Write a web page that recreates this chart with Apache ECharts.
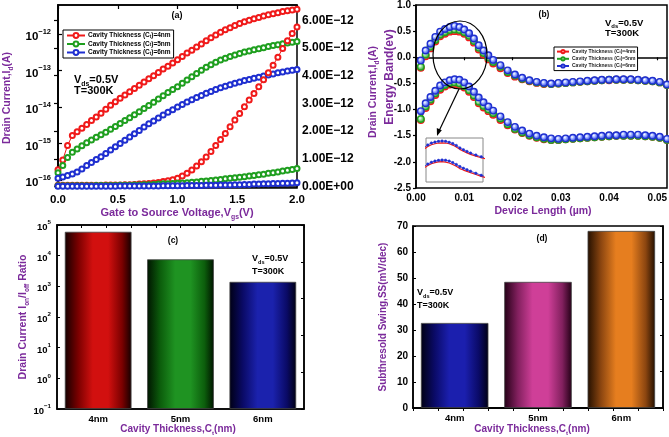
<!DOCTYPE html>
<html>
<head>
<meta charset="utf-8">
<script src="https://cdn.jsdelivr.net/npm/echarts@6/dist/echarts.min.js"></script>
<style>
  html, body { margin: 0; padding: 0; background: #fff; }
  #fig { width: 669px; height: 437px; }
</style>
</head>
<body>
<div id="fig"></div>
<script>
// panel (a): drain current vs gate voltage
const vgs = [0, 0.04, 0.08, 0.12, 0.16, 0.20, 0.24, 0.28, 0.32, 0.36, 0.40, 0.44, 0.48, 0.52, 0.56, 0.60, 0.64, 0.68, 0.72, 0.76, 0.80,
  0.84, 0.88, 0.92, 0.96, 1.00, 1.04, 1.08, 1.12, 1.16, 1.20, 1.24, 1.28, 1.32, 1.36, 1.40, 1.44, 1.48, 1.52, 1.56, 1.60,
  1.64, 1.68, 1.72, 1.76, 1.80, 1.84, 1.88, 1.92, 1.96, 2.00]
// log scale (A)
const idLog4 = [1.91e-16, 3.55e-16, 8.9e-16, 1.66e-15, 2.09e-15, 2.63e-15, 3.31e-15, 4.27e-15, 5.37e-15, 6.76e-15, 8.71e-15,
  1.12e-14, 1.41e-14, 1.74e-14, 2.14e-14, 2.63e-14, 3.24e-14, 3.98e-14, 4.9e-14, 6.03e-14, 7.24e-14, 8.91e-14,
  1.1e-13, 1.32e-13, 1.62e-13, 2.0e-13, 2.45e-13, 3.02e-13, 3.63e-13, 4.47e-13, 5.37e-13, 6.61e-13, 7.94e-13, 9.55e-13,
  1.12e-12, 1.32e-12, 1.51e-12, 1.74e-12, 1.95e-12, 2.19e-12, 2.4e-12, 2.63e-12, 2.88e-12, 3.16e-12, 3.39e-12, 3.63e-12,
  3.89e-12, 4.17e-12, 4.37e-12, 4.57e-12, 4.79e-12]
const idLog5 = [1.58e-16, 2.51e-16, 4.17e-16, 5.75e-16, 7.08e-16, 8.71e-16, 1.05e-15, 1.26e-15, 1.48e-15, 1.74e-15, 2.04e-15,
  2.45e-15, 2.95e-15, 3.55e-15, 4.27e-15, 5.13e-15, 6.17e-15, 7.41e-15, 9.12e-15, 1.1e-14, 1.35e-14, 1.66e-14, 2.04e-14,
  2.51e-14, 3.02e-14, 3.63e-14, 4.47e-14, 5.5e-14, 6.76e-14, 8.32e-14, 1.02e-13, 1.23e-13, 1.45e-13, 1.7e-13, 1.95e-13,
  2.19e-13, 2.45e-13, 2.69e-13, 2.95e-13, 3.24e-13, 3.47e-13, 3.72e-13, 3.98e-13, 4.27e-13, 4.57e-13, 4.9e-13, 5.13e-13,
  5.5e-13, 5.75e-13, 6.03e-13, 6.31e-13]
const idLog6 = [1.12e-16, 1.2e-16, 1.32e-16, 1.45e-16, 1.66e-16, 2.0e-16, 2.51e-16, 3.02e-16, 3.63e-16, 4.37e-16, 5.37e-16,
  6.61e-16, 8.13e-16, 1.0e-15, 1.23e-15, 1.51e-15, 1.86e-15, 2.29e-15, 2.82e-15, 3.47e-15, 4.17e-15, 5.01e-15, 6.03e-15,
  7.24e-15, 8.51e-15, 1.0e-14, 1.17e-14, 1.38e-14, 1.58e-14, 1.82e-14, 2.09e-14, 2.4e-14, 2.69e-14, 3.02e-14, 3.39e-14,
  3.72e-14, 4.07e-14, 4.47e-14, 4.9e-14, 5.37e-14, 5.75e-14, 6.17e-14, 6.61e-14, 7.08e-14, 7.59e-14, 8.13e-14, 8.71e-14,
  9.12e-14, 9.77e-14, 1.02e-13, 1.07e-13]
// linear scale, in units of 1E-12 A
const idLin4 = [0.05, 0.05, 0.05, 0.05, 0.05, 0.05, 0.05, 0.05, 0.05, 0.05, 0.06, 0.06, 0.06, 0.06, 0.07, 0.07, 0.08, 0.09, 0.10,
  0.11, 0.13, 0.15, 0.18, 0.21, 0.25, 0.30, 0.38, 0.48, 0.60, 0.74, 0.90, 1.07, 1.27, 1.48, 1.70, 1.92, 2.16, 2.40, 2.64,
  2.88, 3.12, 3.36, 3.60, 3.85, 4.11, 4.38, 4.67, 4.98, 5.26, 5.52, 5.76]
const idLin5 = [0.03, 0.03, 0.03, 0.03, 0.03, 0.03, 0.03, 0.03, 0.04, 0.04, 0.04, 0.04, 0.04, 0.05, 0.05, 0.05, 0.06, 0.06, 0.07,
  0.07, 0.08, 0.09, 0.10, 0.10, 0.11, 0.12, 0.13, 0.14, 0.16, 0.17, 0.19, 0.20, 0.22, 0.24, 0.26, 0.28, 0.30, 0.32, 0.34,
  0.36, 0.38, 0.40, 0.43, 0.45, 0.48, 0.50, 0.53, 0.56, 0.59, 0.62, 0.65]
const idLin6 = [0.01, 0.01, 0.01, 0.01, 0.01, 0.01, 0.01, 0.01, 0.01, 0.01, 0.01, 0.01, 0.01, 0.02, 0.02, 0.02, 0.02, 0.02, 0.02,
  0.02, 0.02, 0.02, 0.03, 0.03, 0.03, 0.03, 0.03, 0.04, 0.04, 0.04, 0.04, 0.05, 0.05, 0.05, 0.06, 0.06, 0.06, 0.07, 0.07,
  0.08, 0.08, 0.09, 0.09, 0.10, 0.10, 0.11, 0.11, 0.12, 0.12, 0.13, 0.14]

// panel (b): energy band vs device length
const devLen = [0.001, 0.002, 0.003, 0.004, 0.005, 0.006, 0.007, 0.008, 0.009, 0.010, 0.011, 0.012, 0.013, 0.014, 0.015, 0.016,
  0.0175, 0.019, 0.0205, 0.022, 0.0235, 0.025, 0.0265, 0.028, 0.0295, 0.031, 0.0325, 0.034, 0.0355, 0.037, 0.0385, 0.040,
  0.0415, 0.043, 0.0445, 0.046, 0.0475, 0.049, 0.0505, 0.052]
const ecUp4 = [-0.20, 0.02, 0.17, 0.30, 0.40, 0.45, 0.49, 0.50, 0.49, 0.45, 0.38, 0.28, 0.15, 0.05, -0.04, -0.12, -0.21, -0.30,
  -0.37, -0.42, -0.46, -0.49, -0.51, -0.51, -0.50, -0.49, -0.48, -0.47, -0.46, -0.45, -0.44, -0.44, -0.43, -0.43, -0.43,
  -0.44, -0.45, -0.46, -0.48, -0.53]
const ecUp5 = [-0.18, 0.05, 0.20, 0.33, 0.43, 0.48, 0.52, 0.53, 0.52, 0.48, 0.41, 0.31, 0.18, 0.08, -0.01, -0.09, -0.18, -0.28,
  -0.35, -0.41, -0.45, -0.48, -0.50, -0.51, -0.50, -0.49, -0.48, -0.47, -0.46, -0.45, -0.44, -0.43, -0.43, -0.43, -0.43,
  -0.44, -0.45, -0.46, -0.48, -0.53]
const ecUp6 = [-0.06, 0.13, 0.26, 0.39, 0.49, 0.54, 0.58, 0.60, 0.58, 0.53, 0.46, 0.36, 0.23, 0.13, 0.04, -0.05, -0.15, -0.25,
  -0.33, -0.39, -0.44, -0.47, -0.49, -0.50, -0.49, -0.48, -0.47, -0.46, -0.45, -0.44, -0.43, -0.43, -0.42, -0.42, -0.42,
  -0.43, -0.44, -0.45, -0.47, -0.52]
const evLow4 = [-1.20, -0.97, -0.84, -0.72, -0.62, -0.56, -0.52, -0.51, -0.53, -0.58, -0.66, -0.76, -0.88, -0.96, -1.03, -1.10,
  -1.20, -1.30, -1.38, -1.45, -1.50, -1.54, -1.57, -1.58, -1.58, -1.57, -1.56, -1.55, -1.54, -1.53, -1.52, -1.51, -1.50,
  -1.50, -1.50, -1.50, -1.51, -1.52, -1.54, -1.58]
const evLow5 = [-1.18, -0.94, -0.81, -0.69, -0.59, -0.53, -0.49, -0.48, -0.50, -0.55, -0.63, -0.73, -0.85, -0.93, -1.00, -1.07,
  -1.17, -1.28, -1.37, -1.44, -1.49, -1.53, -1.56, -1.58, -1.58, -1.57, -1.56, -1.55, -1.54, -1.53, -1.52, -1.51, -1.50,
  -1.50, -1.50, -1.50, -1.51, -1.52, -1.54, -1.58]
const evLow6 = [-1.03, -0.88, -0.76, -0.64, -0.54, -0.48, -0.44, -0.42, -0.43, -0.48, -0.56, -0.66, -0.77, -0.86, -0.94, -1.02,
  -1.13, -1.24, -1.33, -1.40, -1.46, -1.50, -1.53, -1.55, -1.56, -1.55, -1.54, -1.53, -1.52, -1.51, -1.50, -1.49, -1.49,
  -1.48, -1.48, -1.48, -1.49, -1.50, -1.52, -1.56]

// panels (c) and (d)
const cavity = ['4nm', '5nm', '6nm']
const onOffRatio = [6.0e4, 7.6e3, 1.4e3]
const ssValues = [32.7, 48.5, 68.1]

// ticks
const logTicksA = [1e-16, 1e-15, 1e-14, 1e-13, 1e-12]
const linTicksA = [0, 1, 2, 3, 4, 5, 6]
const lenTicks = [0, 0.01, 0.02, 0.03, 0.04, 0.05]
const logTicksC = [0.1, 1, 10, 100, 1000, 10000, 100000]

const FONT = 'Liberation Sans'
const PURPLE = '#7b2a9b'
const RED = '#f01a1a', GREEN = '#1f9f1f', BLUE = '#1f2fd0'

function pow10Label(v) {
  let e = Math.round(Math.log10(v))
  let s = e < 0 ? '−' + Math.abs(e) : '' + e
  return '{b|10}{p|' + s + '}'
}
function powRich(size) {
  return {
    b: {fontSize: size, fontWeight: 'bold', fontFamily: FONT, color: '#000', lineHeight: size + 6},
    p: {fontSize: size * 0.65, fontWeight: 'bold', fontFamily: FONT, color: '#000', verticalAlign: 'top', lineHeight: size * 0.65}
  }
}
function lbl(size, extra) {
  return Object.assign({fontFamily: FONT, fontWeight: 'bold', color: '#000', fontSize: size}, extra || {})
}
function grad(edge, mid, center) {
  return new echarts.graphic.LinearGradient(0, 0, 1, 0, [
    {offset: 0, color: edge}, {offset: 0.2, color: mid}, {offset: 0.42, color: center},
    {offset: 0.65, color: center}, {offset: 0.86, color: mid}, {offset: 1, color: edge}
  ])
}
// text with subscripts written as {s|..}
function txt(x, y, text, size, color, opts) {
  opts = opts || {}
  return {
    type: 'text', x: x, y: y, rotation: opts.rot || 0, z: 100,
    style: {
      text: text, fill: color, fontSize: size, fontWeight: 'bold', fontFamily: FONT,
      align: opts.align || 'center', verticalAlign: 'middle', lineHeight: size + 4,
      rich: {
        s: {fontSize: size * 0.62, fontWeight: 'bold', fontFamily: FONT, fill: color, verticalAlign: 'bottom', lineHeight: size * 0.62}
      }
    }
  }
}

const axLine = {show: true, lineStyle: {color: '#000', width: 1.5}}
const noSplit = {show: false}

const chart = echarts.init(document.getElementById('fig'))

function lineSeries(name, data, color, xi, yi, sym, z) {
  return {
    name: name, type: 'line', xAxisIndex: xi, yAxisIndex: yi, data: data, z: z || 2,
    symbol: sym.symbol, symbolSize: sym.size, showAllSymbol: true,
    lineStyle: {color: color, width: sym.lw || 1},
    itemStyle: {color: sym.fill || color, borderColor: color, borderWidth: sym.bw || 1.2},
    emphasis: {disabled: true}
  }
}
const pairs = (xs, ys) => xs.map((x, i) => [x, ys[i]])
const hollow = {symbol: 'emptyCircle', size: 5, bw: 1.2}
function sphere(color, light) {
  return {
    symbol: 'circle', size: 6.5, bw: 1.4,
    fill: {type: 'radial', x: 0.4, y: 0.4, r: 0.6, colorStops: [{offset: 0, color: '#ffffff'}, {offset: 0.45, color: light}, {offset: 1, color: color}]}
  }
}

const series = [
  lineSeries(cavity[0], pairs(vgs, idLog4), RED, 0, 0, hollow),
  lineSeries(cavity[1], pairs(vgs, idLog5), GREEN, 0, 0, hollow),
  lineSeries(cavity[2], pairs(vgs, idLog6), BLUE, 0, 0, hollow),
  lineSeries(cavity[0], pairs(vgs, idLin4), RED, 0, 1, hollow),
  lineSeries(cavity[1], pairs(vgs, idLin5), GREEN, 0, 1, hollow),
  lineSeries(cavity[2], pairs(vgs, idLin6), BLUE, 0, 1, hollow),
  lineSeries(cavity[0], pairs(devLen, ecUp4), RED, 2, 2, sphere(RED, '#ff8a8a')),
  lineSeries(cavity[0], pairs(devLen, evLow4), RED, 2, 2, sphere(RED, '#ff8a8a')),
  lineSeries(cavity[1], pairs(devLen, ecUp5), GREEN, 2, 2, sphere(GREEN, '#8ad88a')),
  lineSeries(cavity[1], pairs(devLen, evLow5), GREEN, 2, 2, sphere(GREEN, '#8ad88a')),
  lineSeries(cavity[2], pairs(devLen, ecUp6), BLUE, 2, 2, sphere(BLUE, '#8aa0ff')),
  lineSeries(cavity[2], pairs(devLen, evLow6), BLUE, 2, 2, sphere(BLUE, '#8aa0ff')),
  // inset zoom of the band peaks
  lineSeries('inset', pairs(devLen, ecUp4), RED, 7, 7, {symbol: 'none', size: 0, lw: 1.2}, 10),
  lineSeries('inset', pairs(devLen, evLow4), RED, 7, 7, {symbol: 'none', size: 0, lw: 1.2}, 10),
  lineSeries('inset', pairs(devLen, ecUp6), BLUE, 7, 7, {symbol: 'circle', size: 2.5, bw: 0.5, lw: 0.8}, 11),
  lineSeries('inset', pairs(devLen, evLow6), BLUE, 7, 7, {symbol: 'circle', size: 2.5, bw: 0.5, lw: 0.8}, 11),
  {
    type: 'bar', xAxisIndex: 3, yAxisIndex: 3, barWidth: '81%',
    data: onOffRatio.map((v, i) => ({
      value: v,
      itemStyle: {color: [grad('#140000', '#7a0000', '#d2100f'), grad('#001400', '#0c5e0c', '#1f9322'), grad('#000014', '#0a0a66', '#1b22ad')][i]}
    })),
    itemStyle: {borderColor: '#444', borderWidth: 0.8}
  },
  {
    type: 'bar', xAxisIndex: 5, yAxisIndex: 5, barWidth: '81%',
    data: ssValues.map((v, i) => ({
      value: v,
      itemStyle: {color: [grad('#000014', '#0a0a66', '#1b1fae'), grad('#240016', '#82205e', '#cf3f98'), grad('#241000', '#8c4610', '#e67e1f')][i]}
    })),
    itemStyle: {borderColor: '#444', borderWidth: 0.8}
  }
]

const legendFmt = n => 'Cavity Thickness (C{s|t})=' + n
const option = {
  animation: false,
  backgroundColor: '#fff',
  grid: [
    {left: 58, top: 5, width: 239, height: 183, show: true, borderColor: '#000', borderWidth: 1.5, outerBoundsMode: 'none'},
    {left: 416, top: 5, width: 251, height: 183, show: true, borderColor: '#000', borderWidth: 1.5, outerBoundsMode: 'none'},
    {left: 57, top: 225, width: 247, height: 184, show: true, borderColor: '#000', borderWidth: 1.5, outerBoundsMode: 'none'},
    {left: 413, top: 226, width: 250, height: 182, show: true, borderColor: '#000', borderWidth: 1.5, outerBoundsMode: 'none'},
    {left: 426, top: 138, width: 57, height: 44, show: true, borderColor: '#888', borderWidth: 1, backgroundColor: '#fff', outerBoundsMode: 'none'}
  ],
  legend: [
    {
      left: 63, top: 30, orient: 'vertical', data: cavity, formatter: legendFmt,
      itemWidth: 18, itemHeight: 6, itemGap: 1.5, padding: [2, 3, 2, 3],
      borderColor: '#000', borderWidth: 1, backgroundColor: '#fff', selectedMode: false,
      textStyle: {fontSize: 6.5, fontWeight: 'bold', fontFamily: FONT, color: '#000', padding: [0, 0, 0, -2],
        rich: {s: {fontSize: 4.5, fontWeight: 'bold', fontFamily: FONT, color: '#000', verticalAlign: 'bottom', lineHeight: 4.5}}}
    },
    {
      left: 554, top: 47, orient: 'vertical', data: cavity, formatter: legendFmt,
      itemWidth: 12, itemHeight: 4, itemGap: 2, padding: [2, 2, 2, 2],
      borderColor: '#000', borderWidth: 1, backgroundColor: '#fff', selectedMode: false,
      textStyle: {fontSize: 5, fontWeight: 'bold', fontFamily: FONT, color: '#222', padding: [0, 0, 0, -2],
        rich: {s: {fontSize: 3.5, fontWeight: 'bold', fontFamily: FONT, color: '#222', verticalAlign: 'bottom', lineHeight: 3.5}}}
    }
  ],
  xAxis: [
    {gridIndex: 0, type: 'value', min: 0, max: 2, interval: 0.5, axisLine: axLine, splitLine: noSplit,
      axisTick: {inside: true, length: 4, lineStyle: {width: 1.2}},
      axisLabel: lbl(11.5, {margin: 6, formatter: v => v.toFixed(1)})},
    {gridIndex: 0, type: 'value', position: 'top', min: 0, max: 2, interval: 0.5, axisLine: axLine, splitLine: noSplit,
      axisTick: {inside: true, length: 4, lineStyle: {width: 1.2}}, axisLabel: {show: false}},
    {gridIndex: 1, type: 'value', min: 0, max: 0.052, axisLine: axLine, splitLine: noSplit,
      axisTick: {length: 3, customValues: lenTicks, lineStyle: {width: 1.2}},
      axisLabel: lbl(10, {margin: 5, customValues: lenTicks, formatter: v => v.toFixed(2)})},
    {gridIndex: 2, type: 'category', data: cavity, axisLine: axLine, splitLine: noSplit,
      axisTick: {inside: true, alignWithLabel: true, length: 3}, axisLabel: lbl(9.5, {margin: 5})},
    {gridIndex: 2, type: 'value', position: 'top', min: 0, max: 10, interval: 1, axisLine: axLine, splitLine: noSplit,
      axisTick: {inside: true, length: 3}, axisLabel: {show: false}},
    {gridIndex: 3, type: 'category', data: cavity, axisLine: axLine, splitLine: noSplit,
      axisTick: {inside: true, alignWithLabel: true, length: 3}, axisLabel: lbl(9.5, {margin: 5})},
    {gridIndex: 3, type: 'value', position: 'top', min: 0, max: 10, interval: 1, axisLine: axLine, splitLine: noSplit,
      axisTick: {inside: true, length: 3}, axisLabel: {show: false}},
    {gridIndex: 4, type: 'value', min: 0.0035, max: 0.0195, show: false, splitLine: noSplit}
  ],
  yAxis: [
    {gridIndex: 0, type: 'log', min: 6.03e-17, max: 6.31e-12, axisLine: axLine, splitLine: noSplit,
      axisTick: {inside: true, length: 4, customValues: logTicksA, lineStyle: {width: 1.2}},
      minorTick: {show: false},
      axisLabel: {margin: 7, padding: [6, 0, 0, 0], customValues: logTicksA, formatter: pow10Label, rich: powRich(11.5)}},
    {gridIndex: 0, type: 'value', position: 'right', min: -0.05, max: 6.55, axisLine: axLine, splitLine: noSplit,
      axisTick: {inside: true, length: 4, customValues: linTicksA, lineStyle: {width: 1.2}},
      axisLabel: lbl(12, {margin: 5, customValues: linTicksA, formatter: v => v === 0 ? '0.00E+00' : v.toFixed(2) + 'E−12'})},
    {gridIndex: 1, type: 'value', min: -2.5, max: 1.0, interval: 0.5, axisLine: axLine, splitLine: noSplit,
      axisTick: {length: 3, lineStyle: {width: 1.2}},
      axisLabel: lbl(10, {margin: 5, formatter: v => v.toFixed(1)})},
    {gridIndex: 2, type: 'log', min: 0.1, max: 100000, startValue: 0.1, axisLine: axLine, splitLine: noSplit,
      axisTick: {inside: true, length: 3, customValues: logTicksC},
      axisLabel: {margin: 6, padding: [5, 0, 0, 0], customValues: logTicksC, formatter: pow10Label, rich: powRich(9.5)}},
    {gridIndex: 2, type: 'value', position: 'right', min: 0, max: 5, interval: 1, axisLine: axLine, splitLine: noSplit,
      axisTick: {inside: true, length: 3}, axisLabel: {show: false}},
    {gridIndex: 3, type: 'value', min: 0, max: 70, interval: 10, axisLine: axLine, splitLine: noSplit,
      axisTick: {inside: true, length: 3}, axisLabel: lbl(10, {margin: 5})},
    {gridIndex: 3, type: 'value', position: 'right', min: 0, max: 5, interval: 1, axisLine: axLine, splitLine: noSplit,
      axisTick: {inside: true, length: 3}, axisLabel: {show: false}},
    {gridIndex: 4, type: 'value', min: -1.6, max: 0.76, show: false, splitLine: noSplit}
  ],
  series: series,
  graphic: [
    // axis titles
    txt(7, 98, 'Drain Current,I{s|d}(A)', 10.5, PURPLE, {rot: Math.PI / 2}),
    txt(177, 213, 'Gate to Source Voltage,V{s|gs}(V)', 11, PURPLE),
    txt(373, 92, 'Drain Current,I{s|d}(A)', 10.5, PURPLE, {rot: Math.PI / 2}),
    txt(390, 77, 'Energy Band(ev)', 12, PURPLE, {rot: Math.PI / 2}),
    txt(543, 211, 'Device Length (µm)', 10.5, PURPLE),
    txt(23, 317, 'Drain Current I{s|on}/I{s|off} Ratio', 10.5, PURPLE, {rot: Math.PI / 2}),
    txt(178, 429, 'Cavity Thickness,C{s|t}(nm)', 10, PURPLE),
    txt(383, 317, 'Subthresold Swing,SS(mV/dec)', 10, PURPLE, {rot: Math.PI / 2}),
    txt(532, 429, 'Cavity Thickness,C{s|t}(nm)', 10, PURPLE),
    // panel labels
    txt(177, 16, '(a)', 9, '#000'),
    txt(544, 15, '(b)', 8.5, '#000'),
    txt(173, 241, '(c)', 8.5, '#000'),
    txt(542, 239, '(d)', 8.5, '#000'),
    // conditions
    txt(74, 80, 'V{s|ds}=0.5V', 11, '#000', {align: 'left'}),
    txt(74, 91, 'T=300K', 11, '#000', {align: 'left'}),
    txt(605, 23, 'V{s|ds}=0.5V', 9.5, '#000', {align: 'left'}),
    txt(605, 33, 'T=300K', 9.5, '#000', {align: 'left'}),
    txt(252, 259, 'V{s|ds}=0.5V', 9, '#000', {align: 'left'}),
    txt(252, 272, 'T=300K', 9, '#000', {align: 'left'}),
    txt(417, 293, 'V{s|ds}=0.5V', 9, '#000', {align: 'left'}),
    txt(417, 306, 'T=300K', 9, '#000', {align: 'left'}),
    // zoom ellipse and arrow in panel (b)
    {type: 'ellipse', z: 100, shape: {cx: 460, cy: 55, rx: 27, ry: 34}, style: {fill: 'none', stroke: '#000', lineWidth: 1.2}},
    {type: 'line', z: 100, shape: {x1: 459, y1: 89, x2: 439, y2: 131}, style: {stroke: '#000', lineWidth: 1.2}},
    {type: 'polygon', z: 100, shape: {points: [[437, 136], [441.8, 130.2], [436.8, 128]]}, style: {fill: '#000'}}
  ]
}
chart.setOption(option)
</script>
</body>
</html>
